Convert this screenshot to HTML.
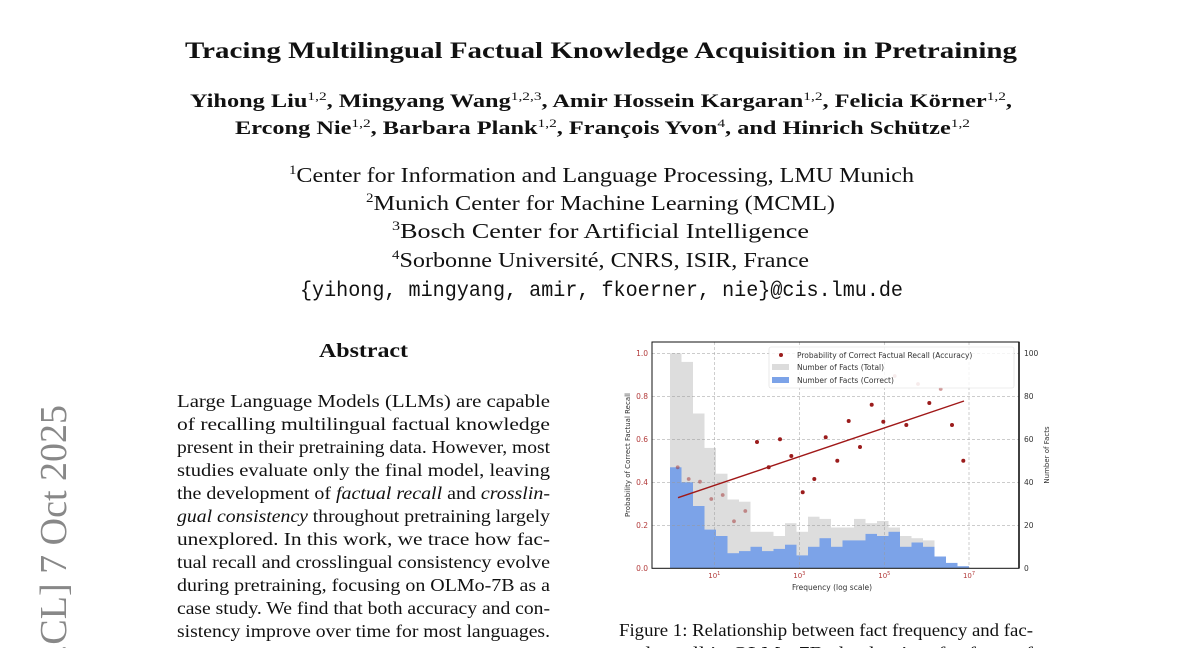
<!DOCTYPE html>
<html><head><meta charset="utf-8"><style>
html,body{margin:0;padding:0;background:#fff;width:1200px;height:648px;overflow:hidden}
svg{display:block}
.s{font-family:"Liberation Serif",serif;fill:#111}
.b{font-weight:bold}
.m{font-family:"Liberation Mono",monospace;fill:#111}
.c{font-family:"DejaVu Sans","Liberation Sans",sans-serif}
</style></head><body>
<svg width="1200" height="648" viewBox="0 0 1200 648" xmlns="http://www.w3.org/2000/svg">
<rect width="1200" height="648" fill="#fff"/>
<!-- arXiv side stamp -->
<text transform="translate(66,405) rotate(-90)" text-anchor="end" class="s" style="fill:#888" font-size="38">arXiv:2505.16527v2  [cs.CL]  7 Oct 2025</text>

<text x="185" y="58" class="s b" font-size="23" textLength="832" lengthAdjust="spacingAndGlyphs">Tracing Multilingual Factual Knowledge Acquisition in Pretraining</text>
<text x="190" y="107" class="s b" font-size="19" textLength="822" lengthAdjust="spacingAndGlyphs">Yihong Liu<tspan font-size="12" font-weight="normal" dy="-7">1,2</tspan><tspan dy="7">, Mingyang Wang</tspan><tspan font-size="12" font-weight="normal" dy="-7">1,2,3</tspan><tspan dy="7">, Amir Hossein Kargaran</tspan><tspan font-size="12" font-weight="normal" dy="-7">1,2</tspan><tspan dy="7">, Felicia Körner</tspan><tspan font-size="12" font-weight="normal" dy="-7">1,2</tspan><tspan dy="7">,</tspan></text>
<text x="235" y="134" class="s b" font-size="19" textLength="735" lengthAdjust="spacingAndGlyphs">Ercong Nie<tspan font-size="12" font-weight="normal" dy="-7">1,2</tspan><tspan dy="7">, Barbara Plank</tspan><tspan font-size="12" font-weight="normal" dy="-7">1,2</tspan><tspan dy="7">, François Yvon</tspan><tspan font-size="12" font-weight="normal" dy="-7">4</tspan><tspan dy="7">, and Hinrich Schütze</tspan><tspan font-size="12" font-weight="normal" dy="-7">1,2</tspan></text>

<text x="289" y="182" class="s" font-size="21" textLength="625" lengthAdjust="spacingAndGlyphs"><tspan font-size="13" dy="-8">1</tspan><tspan dy="8">Center for Information and Language Processing, LMU Munich</tspan></text>
<text x="366" y="210" class="s" font-size="21" textLength="469" lengthAdjust="spacingAndGlyphs"><tspan font-size="13" dy="-8">2</tspan><tspan dy="8">Munich Center for Machine Learning (MCML)</tspan></text>
<text x="392" y="238" class="s" font-size="21" textLength="417" lengthAdjust="spacingAndGlyphs"><tspan font-size="13" dy="-8">3</tspan><tspan dy="8">Bosch Center for Artificial Intelligence</tspan></text>
<text x="392" y="267" class="s" font-size="21" textLength="417" lengthAdjust="spacingAndGlyphs"><tspan font-size="13" dy="-8">4</tspan><tspan dy="8">Sorbonne Université, CNRS, ISIR, France</tspan></text>
<text x="300" y="296" class="m" font-size="21" textLength="603" lengthAdjust="spacingAndGlyphs">{yihong, mingyang, amir, fkoerner, nie}@cis.lmu.de</text>

<text x="319" y="357" class="s b" font-size="20" textLength="89" lengthAdjust="spacingAndGlyphs">Abstract</text>
<g class="s" font-size="18">
<text x="177" y="407" textLength="373" lengthAdjust="spacingAndGlyphs">Large Language Models (LLMs) are capable</text>
<text x="177" y="430" textLength="373" lengthAdjust="spacingAndGlyphs">of recalling multilingual factual knowledge</text>
<text x="177" y="453" textLength="373" lengthAdjust="spacingAndGlyphs">present in their pretraining data. However, most</text>
<text x="177" y="476" textLength="373" lengthAdjust="spacingAndGlyphs">studies evaluate only the final model, leaving</text>
<text x="177" y="499" textLength="373" lengthAdjust="spacingAndGlyphs">the development of <tspan font-style="italic">factual recall</tspan> and <tspan font-style="italic">crosslin-</tspan></text>
<text x="177" y="522" textLength="373" lengthAdjust="spacingAndGlyphs"><tspan font-style="italic">gual consistency</tspan> throughout pretraining largely</text>
<text x="177" y="545" textLength="373" lengthAdjust="spacingAndGlyphs">unexplored.  In this work, we trace how fac-</text>
<text x="177" y="568" textLength="373" lengthAdjust="spacingAndGlyphs">tual recall and crosslingual consistency evolve</text>
<text x="177" y="591" textLength="373" lengthAdjust="spacingAndGlyphs">during pretraining, focusing on OLMo-7B as a</text>
<text x="177" y="614" textLength="373" lengthAdjust="spacingAndGlyphs">case study. We find that both accuracy and con-</text>
<text x="177" y="637" textLength="373" lengthAdjust="spacingAndGlyphs">sistency improve over time for most languages.</text>
</g>
<text x="619" y="636" class="s" font-size="18" textLength="414" lengthAdjust="spacingAndGlyphs">Figure 1: Relationship between fact frequency and fac-</text>
<text x="619" y="659" class="s" font-size="18" textLength="414" lengthAdjust="spacingAndGlyphs">tual recall in OLMo-7B checkpoints for facts of</text>

<!-- Chart -->
<g class="c">
<!-- bars -->
<g fill="#dcdcdc" opacity="0.95">
<rect x="670" y="353.3" width="11.5" height="215"/>
<rect x="681.5" y="361.9" width="11.5" height="206.4"/>
<rect x="693" y="413.5" width="11.5" height="154.8"/>
<rect x="704.5" y="447.9" width="11.5" height="120.4"/>
<rect x="716" y="473.7" width="11.5" height="94.6"/>
<rect x="727.5" y="499.5" width="11.5" height="68.8"/>
<rect x="739" y="501.7" width="11.5" height="66.6"/>
<rect x="750.5" y="531.8" width="11.5" height="36.5"/>
<rect x="762" y="531.8" width="11.5" height="36.5"/>
<rect x="773.5" y="536" width="11.5" height="32.3"/>
<rect x="785" y="523.2" width="11.5" height="45.1"/>
<rect x="796.5" y="531.8" width="11.5" height="36.5"/>
<rect x="808" y="516.7" width="11.5" height="51.6"/>
<rect x="819.5" y="518.9" width="11.5" height="49.4"/>
<rect x="831" y="527.5" width="11.5" height="40.8"/>
<rect x="842.5" y="527.5" width="11.5" height="40.8"/>
<rect x="854" y="518.9" width="11.5" height="49.4"/>
<rect x="865.5" y="523.2" width="11.5" height="45.1"/>
<rect x="877" y="521" width="11.5" height="47.3"/>
<rect x="888.5" y="527.5" width="11.5" height="40.8"/>
<rect x="900" y="536" width="11.5" height="32.3"/>
<rect x="911.5" y="538.2" width="11.5" height="30.1"/>
<rect x="923" y="540.4" width="11.5" height="27.9"/>
</g>
<g fill="#7ca3e8">
<rect x="670" y="467.3" width="11.5" height="101"/>
<rect x="681.5" y="482.3" width="11.5" height="86"/>
<rect x="693" y="506" width="11.5" height="62.3"/>
<rect x="704.5" y="529.6" width="11.5" height="38.7"/>
<rect x="716" y="536" width="11.5" height="32.3"/>
<rect x="727.5" y="553.2" width="11.5" height="15.1"/>
<rect x="739" y="551.1" width="11.5" height="17.2"/>
<rect x="750.5" y="546.8" width="11.5" height="21.5"/>
<rect x="762" y="551.1" width="11.5" height="17.2"/>
<rect x="773.5" y="548.9" width="11.5" height="19.4"/>
<rect x="785" y="544.7" width="11.5" height="23.6"/>
<rect x="796.5" y="555.4" width="11.5" height="12.9"/>
<rect x="808" y="546.8" width="11.5" height="21.5"/>
<rect x="819.5" y="538.2" width="11.5" height="30.1"/>
<rect x="831" y="546.8" width="11.5" height="21.5"/>
<rect x="842.5" y="540.4" width="11.5" height="27.9"/>
<rect x="854" y="540.4" width="11.5" height="27.9"/>
<rect x="865.5" y="533.9" width="11.5" height="34.4"/>
<rect x="877" y="536" width="11.5" height="32.3"/>
<rect x="888.5" y="531.8" width="11.5" height="36.5"/>
<rect x="900" y="546.8" width="11.5" height="21.5"/>
<rect x="911.5" y="542.5" width="11.5" height="25.8"/>
<rect x="923" y="546.8" width="11.5" height="21.5"/>
<rect x="934.5" y="556.5" width="11.5" height="11.8"/>
<rect x="946" y="562.9" width="11.5" height="5.4"/>
<rect x="957.5" y="566.2" width="11.5" height="2.1"/>
</g>
<!-- grid -->
<g stroke="#999" stroke-width="0.6" stroke-dasharray="3,2" opacity="0.8">
<line x1="652" x2="1019" y1="353.3" y2="353.3"/><line x1="652" x2="1019" y1="396.3" y2="396.3"/>
<line x1="652" x2="1019" y1="439.3" y2="439.3"/><line x1="652" x2="1019" y1="482.3" y2="482.3"/>
<line x1="652" x2="1019" y1="525.3" y2="525.3"/>
<line x1="714.3" x2="714.3" y1="342" y2="568"/><line x1="799.3" x2="799.3" y1="342" y2="568"/>
<line x1="884.3" x2="884.3" y1="342" y2="568"/><line x1="969" x2="969" y1="342" y2="568"/>
</g>
<!-- trend line -->
<line x1="678" y1="497.7" x2="964" y2="401" stroke="#a01818" stroke-width="1.4"/>
<!-- points -->
<g fill="#9b1c1c">
<circle cx="677.7" cy="467.3" r="1.9" opacity="0.45"/>
<circle cx="688.7" cy="479" r="1.9" opacity="0.45"/>
<circle cx="700" cy="481.7" r="1.9" opacity="0.45"/>
<circle cx="711.3" cy="499" r="1.9" opacity="0.45"/>
<circle cx="722.7" cy="495" r="1.9" opacity="0.45"/>
<circle cx="734" cy="521.3" r="1.9" opacity="0.45"/>
<circle cx="745.3" cy="511" r="1.9" opacity="0.45"/>
<circle cx="757" cy="442"  r="2"/>
<circle cx="768.7" cy="467.3" r="2"/>
<circle cx="780" cy="439.3" r="2"/>
<circle cx="791.3" cy="456" r="2"/>
<circle cx="802.7" cy="492.3" r="2"/>
<circle cx="814.3" cy="479" r="2"/>
<circle cx="825.7" cy="437.3" r="2"/>
<circle cx="837.3" cy="460.7" r="2"/>
<circle cx="848.7" cy="421" r="2"/>
<circle cx="860" cy="447" r="2"/>
<circle cx="871.7" cy="404.7" r="2"/>
<circle cx="883.3" cy="421.7" r="2"/>
<circle cx="894.7" cy="376" r="1.9" opacity="0.45"/>
<circle cx="906.3" cy="425" r="2"/>
<circle cx="918" cy="384" r="1.9" opacity="0.45"/>
<circle cx="929.3" cy="403" r="2"/>
<circle cx="940.7" cy="389" r="1.9" opacity="0.45"/>
<circle cx="952" cy="425" r="2"/>
<circle cx="963.3" cy="460.7" r="2"/>
</g>
<!-- frame -->
<rect x="652" y="342" width="367" height="226.3" fill="none" stroke="#111" stroke-width="1"/>
<line x1="1019" y1="342" x2="1019" y2="568.3" stroke="#111" stroke-width="1.6"/>
<!-- left ticks -->
<g fill="#b23a3a" font-size="7.5" text-anchor="end">
<text x="648" y="356">1.0</text><text x="648" y="399">0.8</text><text x="648" y="442">0.6</text>
<text x="648" y="485">0.4</text><text x="648" y="528">0.2</text><text x="648" y="571">0.0</text>
</g>
<g fill="#333" font-size="7.5">
<text x="1024" y="356">100</text><text x="1024" y="399">80</text><text x="1024" y="442">60</text>
<text x="1024" y="485">40</text><text x="1024" y="528">20</text><text x="1024" y="571">0</text>
</g>
<g fill="#b23a3a" font-size="7" text-anchor="middle">
<text x="714.3" y="578">10<tspan font-size="5" dy="-3">1</tspan></text>
<text x="799.3" y="578">10<tspan font-size="5" dy="-3">3</tspan></text>
<text x="884.3" y="578">10<tspan font-size="5" dy="-3">5</tspan></text>
<text x="969" y="578">10<tspan font-size="5" dy="-3">7</tspan></text>
</g>
<text x="832" y="590" font-size="7.5" fill="#333" text-anchor="middle">Frequency (log scale)</text>
<text transform="translate(630,455) rotate(-90)" font-size="7" fill="#333" text-anchor="middle">Probability of Correct Factual Recall</text>
<text transform="translate(1049,455) rotate(-90)" font-size="7" fill="#333" text-anchor="middle">Number of Facts</text>
<!-- legend -->
<rect x="769" y="347" width="245" height="41" fill="#fff" fill-opacity="0.8" stroke="#ddd" stroke-width="0.6" rx="2"/>
<circle cx="781" cy="355" r="2" fill="#9b1c1c"/>
<rect x="772" y="364" width="17" height="6" fill="#dcdcdc"/>
<rect x="772" y="377" width="17" height="6" fill="#7ca3e8"/>
<g font-size="7.5" fill="#333">
<text x="797" y="358">Probability of Correct Factual Recall (Accuracy)</text>
<text x="797" y="370">Number of Facts (Total)</text>
<text x="797" y="383">Number of Facts (Correct)</text>
</g>
</g>
</svg>
</body></html>
